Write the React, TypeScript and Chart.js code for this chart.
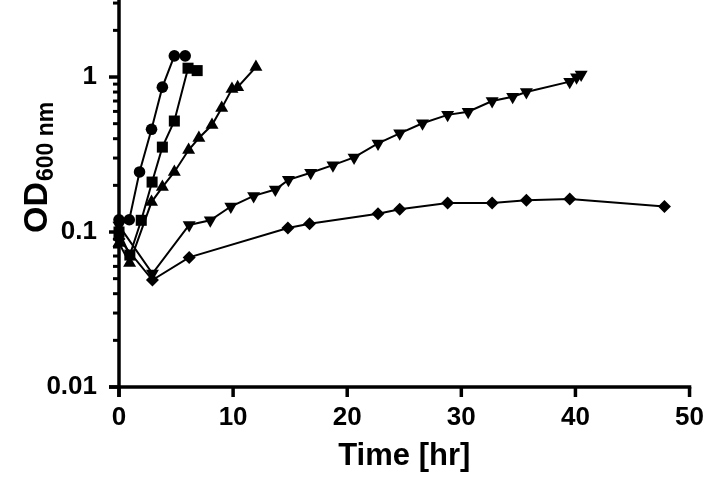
import React, { useEffect, useRef } from "react";
import { Chart, registerables } from "chart.js";

Chart.register(...registerables);

// ---- data (time in hr, OD600) ----
const circleTime = [0, 0.9, 1.8, 2.85, 3.8, 4.85, 5.8];
const circleOD = [0.12, 0.12, 0.244, 0.46, 0.86, 1.37, 1.37];

const squareTime = [0, 0.95, 1.95, 2.9, 3.8, 4.85, 6.05, 6.85];
const squareOD = [0.1, 0.071, 0.119, 0.21, 0.353, 0.52, 1.14, 1.1];

const upTime = [0, 0.93, 2.85, 3.8, 4.85, 6.1, 7.0, 8.15, 9.0, 9.9, 10.4, 12.0];
const upOD = [0.085, 0.063, 0.156, 0.195, 0.244, 0.338, 0.404, 0.49, 0.63, 0.837, 0.86, 1.16];

const downTime = [0, 2.93, 6.15, 8.0, 9.8, 11.8, 13.7, 14.85, 16.8, 18.75, 20.6, 22.7, 24.6, 26.6, 28.8, 30.6, 32.7, 34.5, 35.7, 39.5, 40.1, 40.5];
const downOD = [0.11, 0.054, 0.111, 0.119, 0.146, 0.171, 0.188, 0.217, 0.241, 0.27, 0.303, 0.373, 0.433, 0.503, 0.57, 0.597, 0.7, 0.746, 0.8, 0.933, 0.995, 1.04];

const diamondTime = [0, 2.93, 6.15, 14.8, 16.7, 22.7, 24.6, 28.8, 32.7, 35.7, 39.5, 47.8];
const diamondOD = [0.09, 0.049, 0.0686, 0.106, 0.113, 0.131, 0.14, 0.154, 0.154, 0.16, 0.163, 0.146];

const xTicks = [0, 10, 20, 30, 40, 50];
const yMajorTicks = [0.01, 0.1, 1];
const yMinorTicks = [0.02, 0.03, 0.04, 0.05, 0.06, 0.07, 0.08, 0.09, 0.2, 0.3, 0.4, 0.5, 0.6, 0.7, 0.8, 0.9, 2, 3];
const yMin = 0.01;
const yMax = 3.14;
const xMin = 0;
const xMax = 50;

const xTitle = "Time [hr]";
const yTitleMain = "OD";
const yTitleSub = "600 nm";

const FONT = '"Liberation Sans", Arial, Helvetica, sans-serif';

const toPoints = (xs: number[], ys: number[]) => xs.map((x, i) => ({ x, y: ys[i] }));

const axesPlugin = {
  id: "axesDraw",
  beforeDatasetsDraw(chart: any) {
    const { ctx, chartArea, scales } = chart;
    const xs = scales.x;
    const ys = scales.y;
    const x0 = xs.getPixelForValue(xMin);
    const y0 = ys.getPixelForValue(yMin);
    const line = (a: number, b: number, c: number, d: number) => {
      ctx.beginPath();
      ctx.moveTo(a, b);
      ctx.lineTo(c, d);
      ctx.stroke();
    };
    ctx.save();
    ctx.strokeStyle = "#000";
    ctx.lineCap = "butt";
    ctx.lineWidth = 3.5;
    line(x0, chartArea.top, x0, y0 + 10);
    line(x0 - 10, y0, xs.getPixelForValue(xMax) + 1.75, y0);
    for (const t of xTicks) {
      const px = xs.getPixelForValue(t);
      line(px, y0, px, y0 + 10);
    }
    for (const v of yMajorTicks) {
      const py = ys.getPixelForValue(v);
      line(x0 - 10, py, x0, py);
    }
    ctx.lineWidth = 3;
    for (const v of yMinorTicks) {
      const py = ys.getPixelForValue(v);
      line(x0 - 6, py, x0, py);
    }
    ctx.restore();
  },
  afterDraw(chart: any) {
    const { ctx } = chart;
    ctx.save();
    ctx.translate(47, 233);
    ctx.rotate(-Math.PI / 2);
    ctx.fillStyle = "#000";
    ctx.textBaseline = "alphabetic";
    ctx.textAlign = "left";
    ctx.font = `bold 34px ${FONT}`;
    ctx.fillText(yTitleMain, 0, 0);
    const w = ctx.measureText(yTitleMain).width;
    ctx.font = `bold 23px ${FONT}`;
    ctx.fillText(yTitleSub, w + 1, 6);
    ctx.restore();
  },
};

const mkSet = (xs: number[], ys: number[], style: string, radius: number, rotation = 0) => ({
  data: toPoints(xs, ys),
  showLine: true,
  borderColor: "#000",
  borderWidth: 2,
  backgroundColor: "#000",
  pointBackgroundColor: "#000",
  pointBorderColor: "#000",
  pointBorderWidth: 0,
  pointStyle: style,
  pointRadius: radius,
  pointRotation: rotation,
  tension: 0,
  clip: false as any,
});

export default function App() {
  const ref = useRef<HTMLCanvasElement | null>(null);
  useEffect(() => {
    if (!ref.current) return;
    const chart = new Chart(ref.current, {
      type: "scatter",
      data: {
        datasets: [
          mkSet(diamondTime, diamondOD, "rectRot", 6.5),
          mkSet(downTime, downOD, "triangle", 7.5, 180),
          mkSet(upTime, upOD, "triangle", 7.5),
          mkSet(squareTime, squareOD, "rect", 7.8),
          mkSet(circleTime, circleOD, "circle", 5.8),
        ] as any,
      },
      options: {
        responsive: false,
        animation: false,
        devicePixelRatio: 1,
        layout: { autoPadding: false, padding: { top: 0, right: 15, left: 0, bottom: 0 } },
        plugins: { legend: { display: false }, tooltip: { enabled: false } },
        scales: {
          x: {
            type: "linear",
            min: xMin,
            max: xMax,
            afterFit: (s: any) => {
              s.height = 91;
            },
            afterBuildTicks: (s: any) => {
              s.ticks = xTicks.map((v) => ({ value: v }));
            },
            grid: { display: true, drawOnChartArea: false, drawTicks: true, tickLength: 10, color: "rgba(0,0,0,0)" },
            border: { display: false },
            ticks: {
              padding: 5,
              color: "#000",
              font: { family: FONT, size: 26, weight: "bold" },
              maxRotation: 0,
              callback: (v: any) => String(v),
            },
            title: {
              display: true,
              text: xTitle,
              color: "#000",
              font: { family: FONT, size: 31, weight: "bold" },
              padding: { top: 0, bottom: 3 },
            },
          },
          y: {
            type: "logarithmic",
            min: yMin,
            max: yMax,
            afterFit: (s: any) => {
              s.width = 119;
              s.paddingTop = 0;
              s.paddingBottom = 0;
            },
            afterBuildTicks: (s: any) => {
              s.ticks = yMajorTicks.map((v) => ({ value: v }));
            },
            grid: { display: true, drawOnChartArea: false, drawTicks: true, tickLength: 10, color: "rgba(0,0,0,0)" },
            border: { display: false },
            ticks: {
              padding: 12,
              color: "#000",
              font: { family: FONT, size: 26, weight: "bold" },
              callback: (v: any) => String(v),
            },
          },
        },
      },
      plugins: [axesPlugin],
    });
    return () => chart.destroy();
  }, []);
  return (
    <div style={{ position: "fixed", left: 0, top: 0, width: 709, height: 478, background: "#fff" }}>
      <canvas ref={ref} width={709} height={478} style={{ display: "block" }} />
    </div>
  );
}
